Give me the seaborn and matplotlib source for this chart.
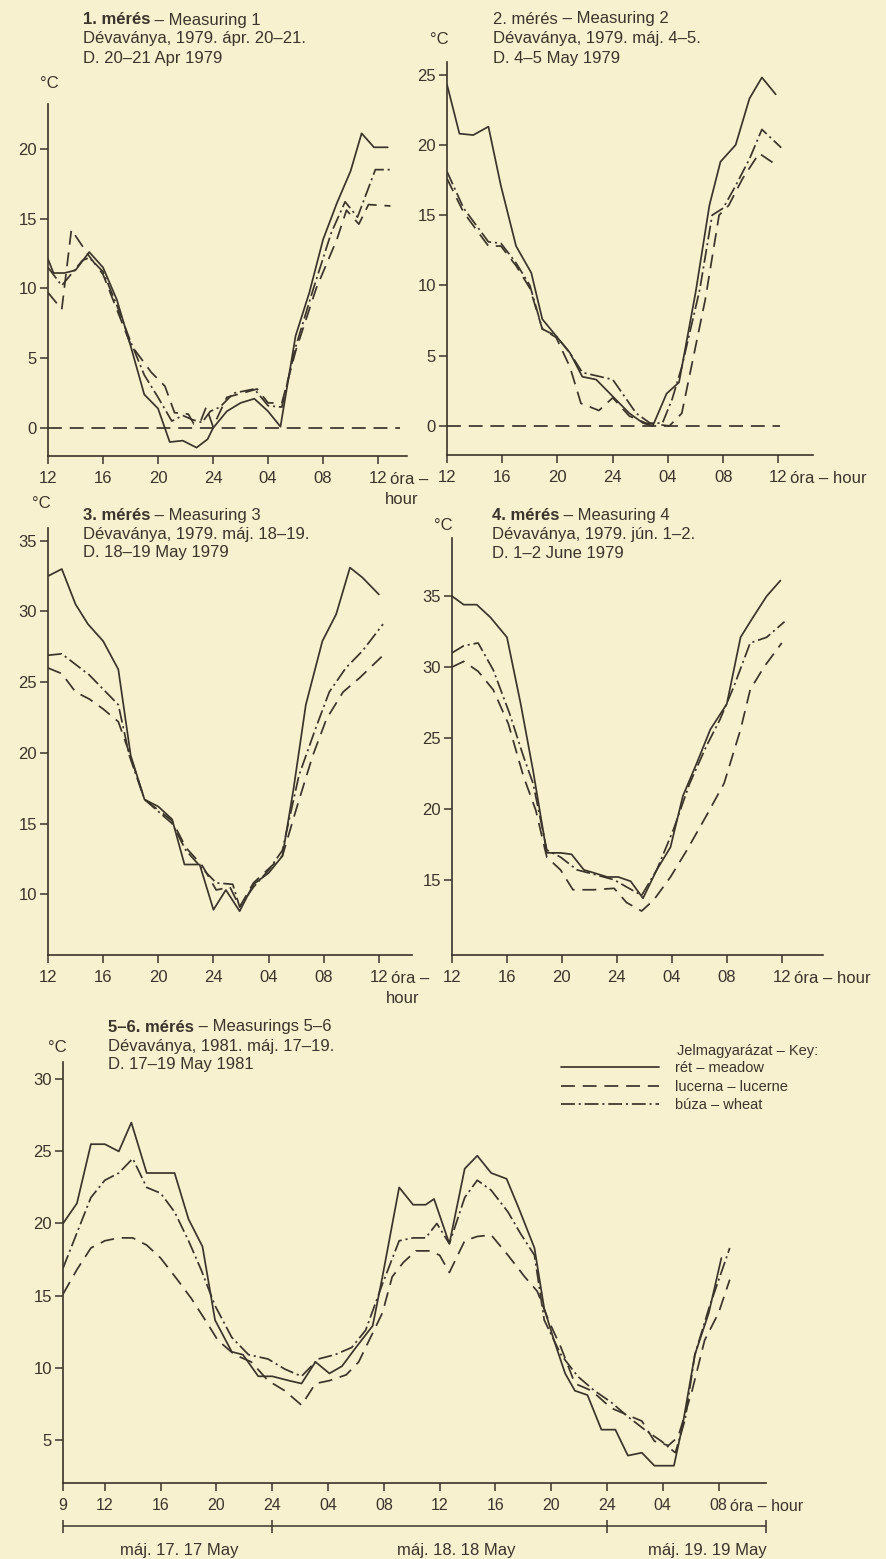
import numpy as np
import pandas as pd
import matplotlib
matplotlib.use("Agg")
import matplotlib.pyplot as plt
import seaborn as sns
from matplotlib.lines import Line2D

# page look: old printed book, cream paper, dark brown ink
BG = "#f8f1d0"
INK = "#3b342a"
W, H = 886, 1559

sns.set_theme(style="ticks", rc={
    "figure.facecolor": BG,
    "axes.facecolor": BG,
    "axes.edgecolor": INK,
    "axes.labelcolor": INK,
    "text.color": INK,
    "xtick.color": INK,
    "ytick.color": INK,
    "savefig.facecolor": BG,
})
plt.rcParams["font.family"] = ["Liberation Sans", "DejaVu Sans"]

CROPS = ["meadow", "lucerne", "wheat"]
CROP_LABELS = ["rét – meadow", "lucerna – lucerne", "búza – wheat"]
DASHES = {"meadow": "", "lucerne": (8, 4.5), "wheat": (8, 2.2, 1.2, 2.2)}

# ---- 1. mérés: hours after 12:00, 20 Apr 1979 ----
p1_meadow_h = [0, 0.4, 1.2, 2, 3, 4, 5, 6, 7, 8, 8.85, 9.8, 10.8, 11.6, 12, 13, 14, 15, 16, 16.9,
               18, 19, 20, 21, 22, 22.8, 23.7, 24.7]
p1_meadow_t = [12.1, 11.1, 11.1, 11.3, 12.6, 11.5, 9.2, 5.9, 2.4, 1.4, -1.0, -0.9, -1.4, -0.8, 0.0, 1.2, 1.8, 2.1, 1.2, 0.1,
               6.6, 9.7, 13.5, 16.1, 18.4, 21.1, 20.1, 20.1]
p1_lucerne_h = [0, 1, 1.7, 3, 4, 5, 6, 7.5, 8.5, 9.2, 10.2, 10.6, 11.1, 11.5, 12, 13, 14.5, 15.2, 16, 17,
                18, 19.5, 21, 21.7, 22.6, 23.3, 24.9]
p1_lucerne_t = [9.7, 8.5, 14.2, 12.3, 11.0, 8.5, 6.0, 4.0, 3.0, 1.1, 1.0, 0.3, 0.5, 1.5, 0.1, 2.2, 2.6, 2.8, 1.8, 1.8,
                5.5, 10.0, 13.5, 15.6, 14.6, 16.0, 15.9]
p1_wheat_h = [0, 1, 2.5, 3, 4, 5, 6, 7, 8, 9, 9.8, 10.5, 11.2, 11.8, 12.5, 13.5, 15, 16, 17, 18,
              19.3, 20.6, 21.6, 22.5, 23.8, 24.9]
p1_wheat_t = [11.5, 10.2, 12.0, 12.2, 11.2, 8.8, 6.2, 3.8, 2.2, 0.5, 0.9, 0.6, 0.4, 1.2, 1.5, 2.5, 2.8, 1.6, 1.5, 5.8,
              10.0, 14.0, 16.2, 15.1, 18.5, 18.5]

# ---- 2. mérés: 4-5 May 1979 ----
p2_meadow_h = [0, 0.9, 1.9, 3, 3.9, 5, 6.1, 6.9, 7.9, 8.9, 9.8, 10.8, 12, 13.2, 14.2, 14.9, 15.9, 16.8, 18, 19,
               19.8, 20.9, 21.9, 22.8, 23.8]
p2_meadow_t = [24.3, 20.8, 20.7, 21.3, 17.1, 12.8, 10.9, 7.6, 6.4, 5.2, 3.5, 3.3, 2.1, 0.9, 0.2, 0.0, 2.3, 3.1, 9.5, 15.7,
               18.8, 20.0, 23.3, 24.8, 23.6]
p2_lucerne_h = [0, 1.2, 3, 3.9, 5, 6, 6.9, 7.9, 8.9, 9.7, 11, 12, 13.2, 14.4, 16.1, 17, 18.7, 19.7, 20.4, 21.4,
                22.6, 23.8]
p2_lucerne_t = [17.6, 15.2, 12.8, 12.8, 11.4, 9.8, 6.9, 6.3, 4.2, 1.6, 1.1, 2.0, 0.7, 0.2, 0.0, 0.9, 9.0, 15.0, 15.7, 17.6,
                19.4, 18.6]
p2_wheat_h = [0, 1.2, 3, 3.9, 5, 6, 6.9, 7.9, 8.9, 9.8, 12, 13.7, 14.7, 15.6, 16.3, 17, 18.3, 19.2, 20, 20.9,
              21.9, 22.8, 24.2]
p2_wheat_t = [18.1, 15.5, 13.1, 13.0, 11.6, 10.0, 6.9, 6.4, 5.2, 3.8, 3.3, 0.9, 0.2, 0.2, 1.9, 4.2, 9.7, 15.0, 15.5, 17.1,
              19.0, 21.1, 19.8]

# ---- 3. mérés: 18-19 May 1979 ----
p3_meadow_h = [0, 1, 2, 2.9, 4, 5.1, 6, 7, 8, 9, 9.9, 11, 12, 12.9, 13.9, 14.9, 16, 17, 17.8, 18.7,
               19.9, 20.9, 21.9, 22.8, 24]
p3_meadow_t = [32.5, 33.0, 30.5, 29.1, 27.9, 25.9, 19.8, 16.7, 16.2, 15.3, 12.1, 12.1, 8.9, 10.3, 8.8, 10.7, 11.5, 12.7, 17.4, 23.4,
               27.9, 29.8, 33.1, 32.4, 31.2]
p3_lucerne_h = [0, 1, 2, 3, 4, 5.1, 5.9, 7, 9, 10, 11.2, 12.2, 13.2, 13.9, 14.9, 17, 18, 19.2, 20.2, 21.4,
                22.6, 24.2]
p3_lucerne_t = [26.0, 25.6, 24.3, 23.8, 23.1, 22.2, 20.0, 16.7, 15.2, 13.3, 12.0, 10.3, 10.5, 9.1, 10.8, 12.7, 16.0, 19.8, 22.4, 24.3,
                25.3, 26.8]
p3_wheat_h = [0, 1, 3, 5.1, 5.9, 7, 9, 10, 11.2, 12.2, 13.4, 13.9, 14.9, 16, 17, 18.2, 19.4, 20.4, 21.6, 22.8, 24.3]
p3_wheat_t = [26.9, 27.0, 25.5, 23.4, 19.8, 16.7, 15.0, 13.1, 11.8, 10.8, 10.7, 9.1, 10.5, 11.7, 13.1, 18.4, 21.7, 24.3, 26.0, 27.2, 29.1]

# ---- 4. mérés: 1-2 June 1979 ----
p4_meadow_h = [0, 0.85, 1.8, 2.8, 4, 5, 5.9, 6.9, 7.9, 8.7, 9.6, 10.3, 11.3, 12.1, 13, 13.9, 14.9, 15.9, 16.8, 17.8,
               18.8, 20, 21, 21.9, 22.9, 23.9]
p4_meadow_t = [35.0, 34.4, 34.4, 33.5, 32.1, 27.4, 22.7, 16.9, 16.9, 16.8, 15.7, 15.5, 15.2, 15.2, 14.9, 13.7, 15.7, 17.3, 20.9, 23.2,
               25.6, 27.4, 32.1, 33.5, 35.0, 36.1]
p4_lucerne_h = [0, 0.85, 1.9, 3, 4.1, 5.2, 6.1, 6.9, 7.9, 8.8, 10.3, 11.8, 12.7, 13.8, 14.7, 15.9, 17.1, 18.5, 19.8, 21,
                21.7, 22.7, 24]
p4_lucerne_t = [30.0, 30.4, 29.7, 28.4, 26.0, 22.3, 19.9, 16.6, 15.7, 14.3, 14.3, 14.4, 13.4, 12.8, 13.6, 15.2, 17.1, 19.5, 21.8, 25.6,
                28.4, 30.0, 31.7]
p4_wheat_h = [0, 0.85, 1.9, 3, 4.2, 5.2, 5.9, 6.9, 7.9, 9.1, 10.3, 11.8, 12.7, 13.8, 14.9, 16.1, 17.3, 18.5, 19.5, 20.5,
              21.7, 22.9, 24.2]
p4_wheat_t = [31.0, 31.5, 31.7, 29.8, 26.7, 23.7, 21.8, 17.1, 16.6, 15.7, 15.4, 15.0, 14.5, 13.9, 15.7, 18.5, 21.8, 24.4, 26.3, 28.6,
              31.7, 32.1, 33.2]

# ---- 5-6. mérés: hours after 00:00, 17 May 1981 ----
p5_meadow_h = [9, 10, 11, 12, 13, 13.9, 15, 16, 17, 18, 19, 19.9, 21.1, 21.9, 23, 24, 25.2, 26.1, 27.1, 28.1,
               29, 30, 31.2, 31.9, 33.1, 34.1, 35, 35.6, 36.7, 37.8, 38.7, 39.7, 40.8, 41.7, 42.8, 43.5, 44.2, 45, 45.7, 46.6,
               47.6, 48.6, 49.5, 50.5, 51.4, 52.8, 53.4, 54.3, 55.3, 56.2]
p5_meadow_t = [20.0, 21.4, 25.5, 25.5, 25.0, 27.0, 23.5, 23.5, 23.5, 20.3, 18.4, 13.3, 11.1, 10.9, 9.4, 9.4, 9.1, 8.9, 10.4, 9.6,
               10.1, 11.4, 12.9, 16.3, 22.5, 21.3, 21.3, 21.7, 18.6, 23.8, 24.7, 23.5, 23.1, 21.0, 18.3, 14.1, 11.9, 9.6, 8.4, 8.1,
               5.7, 5.7, 3.9, 4.1, 3.2, 3.2, 5.9, 10.9, 13.8, 17.6]
p5_lucerne_h = [9, 10, 11, 12, 13, 14, 15, 16, 17.2, 18.2, 19.2, 20.1, 21.3, 22.5, 23.7, 24.9, 26.1, 27.1, 28.1, 29.3,
                30.2, 31.2, 31.9, 32.6, 33.4, 34.3, 35.3, 36.0, 36.7, 37.8, 38.7, 39.7, 40.9, 42.1, 43, 43.8, 44.7, 45.7, 46.9, 48.3,
                49.5, 50.5, 51.4, 52.4, 53.1, 54.1, 55, 56, 56.8]
p5_lucerne_t = [15.1, 16.8, 18.3, 18.8, 19.0, 19.0, 18.5, 17.6, 16.1, 14.8, 13.3, 11.9, 10.9, 10.4, 9.1, 8.4, 7.4, 8.9, 9.1, 9.5,
                10.4, 12.4, 13.8, 16.3, 17.3, 18.1, 18.1, 17.8, 16.6, 18.8, 19.1, 19.2, 17.8, 16.3, 15.3, 13.3, 11.4, 8.9, 8.4, 7.2,
                6.7, 6.3, 4.9, 4.6, 5.2, 8.4, 11.9, 13.8, 16.1]
p5_wheat_h = [9, 11, 12, 13, 14, 15, 16, 17, 18, 18.9, 19.9, 21.1, 22.3, 23.7, 24.9, 26.1, 27.3, 28.5, 29.7, 30.7,
              31.9, 33.1, 34.1, 35, 35.8, 36.7, 37.8, 38.7, 39.7, 40.9, 41.8, 42.8, 43.5, 44.7, 45.9, 47.1, 48.3, 49.5, 50.7, 51.9,
              52.9, 53.6, 54.3, 55.3, 56.8]
p5_wheat_t = [16.9, 21.8, 23.0, 23.5, 24.5, 22.5, 22.1, 20.8, 18.8, 16.8, 14.3, 12.1, 10.9, 10.6, 9.9, 9.4, 10.6, 10.9, 11.4, 12.6,
              15.8, 18.8, 19.0, 19.0, 20.0, 18.6, 21.8, 23.0, 22.3, 20.8, 19.3, 17.8, 13.3, 10.9, 9.4, 8.4, 7.6, 6.6, 5.7, 4.9,
              4.1, 6.4, 10.9, 14.1, 18.3]

# axis ticks and labels
day_ticks = [0, 4, 8, 12, 16, 20, 24]
day_labels = ["12", "16", "20", "24", "04", "08", "12"]
long_ticks = [9, 12, 16, 20, 24, 28, 32, 36, 40, 44, 48, 52, 56]
long_labels = ["9", "12", "16", "20", "24", "04", "08", "12", "16", "20", "24", "04", "08"]
day_bounds = [9, 24, 48]
day_names = ["máj. 17. 17 May", "máj. 18. 18 May", "máj. 19. 19 May"]
day_name_pos = [17.3, 37.2, 55.2]

TICK_FS = 12
TITLE_FS = 12
KEY_FS = 10.5
LW = 1.25


def long_frame(series):
    parts = []
    for crop, (hrs, temps) in zip(CROPS, series):
        parts.append(pd.DataFrame({"hour": hrs, "temp": temps, "crop": crop}))
    return pd.concat(parts, ignore_index=True)


def add_axes_px(fig, left, top, right, bottom):
    return fig.add_axes([left / W, 1 - bottom / H, (right - left) / W, (bottom - top) / H])


def fig_text(fig, x, y, s, **kw):
    kw.setdefault("fontsize", TITLE_FS)
    return fig.text(x / W, 1 - y / H, s, va="center", ha="left", **kw)


def style_axes(ax, xlim, ylim, xticks, xlabels, yticks, xfs=TICK_FS):
    ax.set_xlim(*xlim)
    ax.set_ylim(*ylim)
    ax.set_xticks(xticks, xlabels)
    ax.set_yticks(yticks)
    ax.set_xlabel("")
    ax.set_ylabel("")
    for side in ["top", "right"]:
        ax.spines[side].set_visible(False)
    for side in ["left", "bottom"]:
        ax.spines[side].set_linewidth(1.2)
    ax.tick_params(axis="x", direction="out", length=6, width=1.1, pad=5, labelsize=xfs)
    ax.tick_params(axis="y", direction="out", length=6, width=1.1, pad=2, labelsize=TICK_FS)


def draw_lines(ax, series):
    df = long_frame(series)
    sns.lineplot(data=df, x="hour", y="temp", style="crop", style_order=CROPS, dashes=DASHES,
                 color=INK, lw=LW, estimator=None, legend=False, ax=ax)


def add_title(fig, ax, x, ys, bold, rest, line2, line3, bold_weight="bold"):
    t = fig_text(fig, x, ys[0], bold, fontweight=bold_weight)
    ax.annotate(rest, xy=(1, 0.5), xycoords=t, va="center", ha="left", fontsize=TITLE_FS,
                annotation_clip=False)
    fig_text(fig, x, ys[1], line2)
    fig_text(fig, x, ys[2], line3)


def hour_note(ax, xpos, two_lines, fs=TICK_FS):
    # "óra – hour" written after the last tick label
    kw = dict(xycoords=("data", "axes fraction"), textcoords="offset points", va="center",
              fontsize=fs, annotation_clip=False)
    if two_lines:
        ax.annotate("óra –", xy=(xpos, 0), xytext=(8.5, -17), ha="left", **kw)
        ax.annotate("hour", xy=(xpos, 0), xytext=(17, -31), ha="center", **kw)
    else:
        ax.annotate("óra – hour", xy=(xpos, 0), xytext=(8.5, -17), ha="left", **kw)


fig = plt.figure(figsize=(W / 100, H / 100), dpi=100)

panels = [
    dict(rect=(48, 104, 407, 456), xlim=(0, 26.1), ylim=(-2.0, 23.2), yticks=[0, 5, 10, 15, 20],
         series=[(p1_meadow_h, p1_meadow_t), (p1_lucerne_h, p1_lucerne_t), (p1_wheat_h, p1_wheat_t)],
         zero_end=25.6, tx=83, ty=(20, 39, 58), degc=(40, 83), weight="bold",
         title=("1. mérés", " – Measuring 1", "Dévaványa, 1979. ápr. 20–21.", "D. 20–21 Apr 1979"),
         hour_split=True),
    dict(rect=(447, 62, 813, 455), xlim=(0, 26.5), ylim=(-2.07, 25.9), yticks=[0, 5, 10, 15, 20, 25],
         series=[(p2_meadow_h, p2_meadow_t), (p2_lucerne_h, p2_lucerne_t), (p2_wheat_h, p2_wheat_t)],
         zero_end=24.1, tx=493, ty=(19, 39, 58), degc=(430, 40), weight="normal",
         title=("2. mérés", " – Measuring 2", "Dévaványa, 1979. máj. 4–5.", "D. 4–5 May 1979"),
         hour_split=False),
    dict(rect=(48, 528, 412, 955), xlim=(0, 26.4), ylim=(5.7, 35.9), yticks=[10, 15, 20, 25, 30, 35],
         series=[(p3_meadow_h, p3_meadow_t), (p3_lucerne_h, p3_lucerne_t), (p3_wheat_h, p3_wheat_t)],
         zero_end=None, tx=83, ty=(515, 534, 553), degc=(32, 503), weight="bold",
         title=("3. mérés", " – Measuring 3", "Dévaványa, 1979. máj. 18–19.", "D. 18–19 May 1979"),
         hour_split=True),
    dict(rect=(452, 538, 823, 955), xlim=(0, 27.0), ylim=(9.7, 39.1), yticks=[15, 20, 25, 30, 35],
         series=[(p4_meadow_h, p4_meadow_t), (p4_lucerne_h, p4_lucerne_t), (p4_wheat_h, p4_wheat_t)],
         zero_end=None, tx=492, ty=(515, 534, 553), degc=(434, 525), weight="bold",
         title=("4. mérés", " – Measuring 4", "Dévaványa, 1979. jún. 1–2.", "D. 1–2 June 1979"),
         hour_split=False),
]

for p in panels:
    ax = add_axes_px(fig, *p["rect"])
    draw_lines(ax, p["series"])
    if p["zero_end"] is not None:
        ax.hlines(0, 0, p["zero_end"], colors=INK, lw=LW, linestyles=(0, (8, 4.5)))
    style_axes(ax, p["xlim"], p["ylim"], day_ticks, day_labels, p["yticks"])
    b, rest, l2, l3 = p["title"]
    add_title(fig, ax, p["tx"], p["ty"], b, rest, l2, l3, bold_weight=p["weight"])
    fig_text(fig, p["degc"][0], p["degc"][1], "°C", fontsize=TICK_FS)
    hour_note(ax, 24, p["hour_split"])

# ---- long panel: measurings 5-6 ----
ax5 = add_axes_px(fig, 63, 1062, 766, 1483)
draw_lines(ax5, [(p5_meadow_h, p5_meadow_t), (p5_lucerne_h, p5_lucerne_t), (p5_wheat_h, p5_wheat_t)])
style_axes(ax5, (9, 59.4), (2.0, 31.2), long_ticks, long_labels, [5, 10, 15, 20, 25, 30], xfs=11.5)
add_title(fig, ax5, 108, (1027, 1046, 1065), "5–6. mérés", " – Measurings 5–6",
          "Dévaványa, 1981. máj. 17–19.", "D. 17–19 May 1981")
fig_text(fig, 48, 1048, "°C", fontsize=TICK_FS)
hour_note(ax5, 56, False, fs=11.5)

# day bracket under the axis
trans = ax5.get_xaxis_transform()
ax5.hlines(-0.103, day_bounds[0], 59.4, transform=trans, colors=INK, lw=1.1, clip_on=False)
ax5.vlines(day_bounds + [59.4], -0.118, -0.088, transform=trans, colors=INK, lw=1.1, clip_on=False)
for name, pos in zip(day_names, day_name_pos):
    ax5.text(pos, -0.160, name, transform=trans, ha="center", va="center", fontsize=12)

# key
handles = [Line2D([], [], color=INK, lw=LW, ls="-"),
           Line2D([], [], color=INK, lw=LW, dashes=DASHES["lucerne"]),
           Line2D([], [], color=INK, lw=LW, dashes=DASHES["wheat"])]
leg = ax5.legend(handles, CROP_LABELS, loc="upper left", bbox_to_anchor=(561 / W, 1 - 1061 / H),
                 bbox_transform=fig.transFigure, frameon=False, fontsize=KEY_FS, handlelength=6.7,
                 handletextpad=1.15, labelspacing=0.32, borderaxespad=0, borderpad=0)
for txt in leg.get_texts():
    txt.set_color(INK)
fig_text(fig, 677, 1051, "Jelmagyarázat – Key:", fontsize=KEY_FS)

fig.savefig("out.png", dpi=100)
